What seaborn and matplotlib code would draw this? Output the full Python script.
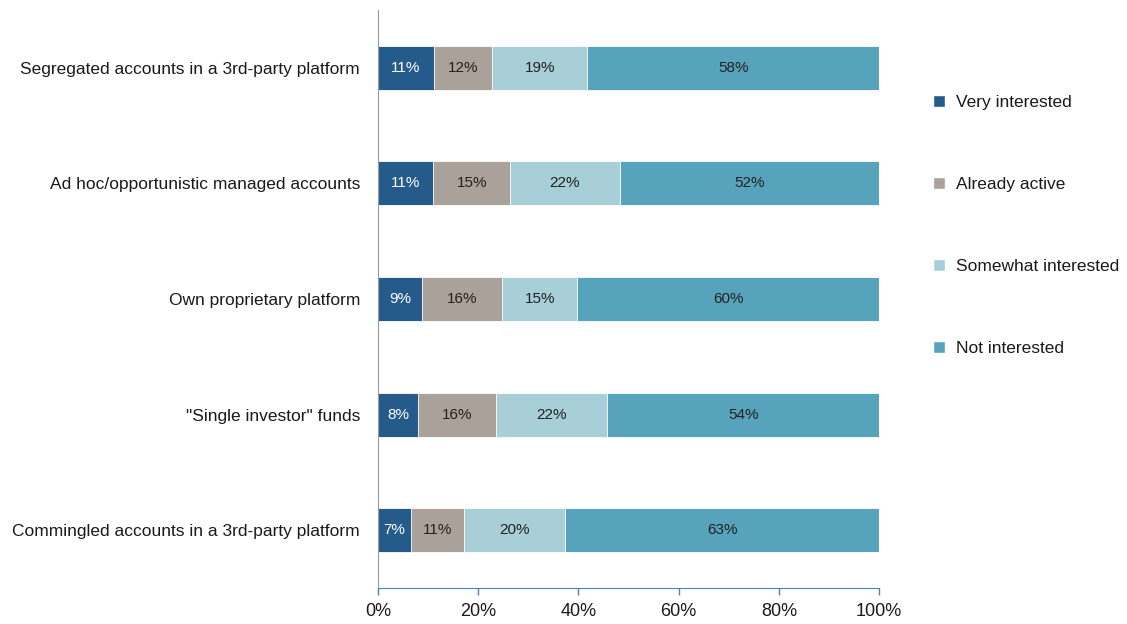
import numpy as np
import pandas as pd
import matplotlib
matplotlib.use("Agg")
import matplotlib.pyplot as plt
import seaborn as sns
from matplotlib.patches import Patch

categories = [
    "Segregated accounts in a 3rd-party platform",
    "Ad hoc/opportunistic managed accounts",
    "Own proprietary platform",
    "\"Single investor\" funds",
    "Commingled accounts in a 3rd-party platform",
]
series = ["Very interested", "Already active", "Somewhat interested", "Not interested"]
very_interested = [11.2, 11.0, 8.8, 8.0, 6.6]
already_active = [11.6, 15.4, 16.0, 15.6, 10.6]
somewhat_interested = [19.0, 21.8, 15.0, 22.2, 20.2]
not_interested = [58.2, 51.8, 60.2, 54.2, 62.6]
colors = ["#255b8a", "#aba19b", "#a8ced8", "#56a3bb"]

sns.set_style("white")
plt.rcParams["font.family"] = ["Liberation Sans", "DejaVu Sans"]
plt.rcParams["text.color"] = "#1a1a1a"

df = pd.DataFrame({
    "category": categories,
    series[0]: very_interested,
    series[1]: already_active,
    series[2]: somewhat_interested,
    series[3]: not_interested,
})
cum = df[series].cumsum(axis=1)
cum["category"] = categories

fig = plt.figure(figsize=(11.27, 6.24), dpi=100)
ax = fig.add_axes([0.3354, 0.0577, 0.4446, 0.9263])

# stacked bars: draw cumulative totals from the largest down
for s, c in reversed(list(zip(series, colors))):
    sns.barplot(data=cum, x=s, y="category", color=c, saturation=1,
                width=0.38, ax=ax, edgecolor="white", linewidth=0.6,
                order=categories)

# segment labels
for i in range(len(categories)):
    left = 0
    for j, s in enumerate(series):
        v = df.loc[i, s]
        ax.text(left + v / 2, i, f"{round(v):.0f}%", ha="center", va="center",
                fontsize=11, color="white" if j == 0 else "#222222")
        left += v

ax.set_xlim(0, 100)
ax.set_ylim(4.5, -0.5)
ax.set_xticks(np.arange(0, 101, 20))
ax.set_xticklabels([f"{t}%" for t in range(0, 101, 20)], fontsize=13)
ax.set_xlabel("")
ax.set_ylabel("")
ax.tick_params(axis="y", left=False, length=0, labelsize=12.5, pad=13,
               labelcolor="#1a1a1a")
ax.tick_params(axis="x", bottom=True, length=5, width=1, color="#4f81bd",
               direction="out", pad=6, labelcolor="#1a1a1a")
for sp in ["top", "right"]:
    ax.spines[sp].set_visible(False)
ax.spines["left"].set_color("#999999")
ax.spines["bottom"].set_color("#4f81bd")

handles = [Patch(facecolor=c, label=s) for s, c in zip(series, colors)]
fig.legend(handles=handles, loc="upper left", bbox_to_anchor=(0.822, 0.859),
           frameon=False, fontsize=12.5, labelspacing=3.85, handlelength=0.7,
           handleheight=0.7, handletextpad=0.6, borderaxespad=0)

fig.savefig("out.png", dpi=100)
